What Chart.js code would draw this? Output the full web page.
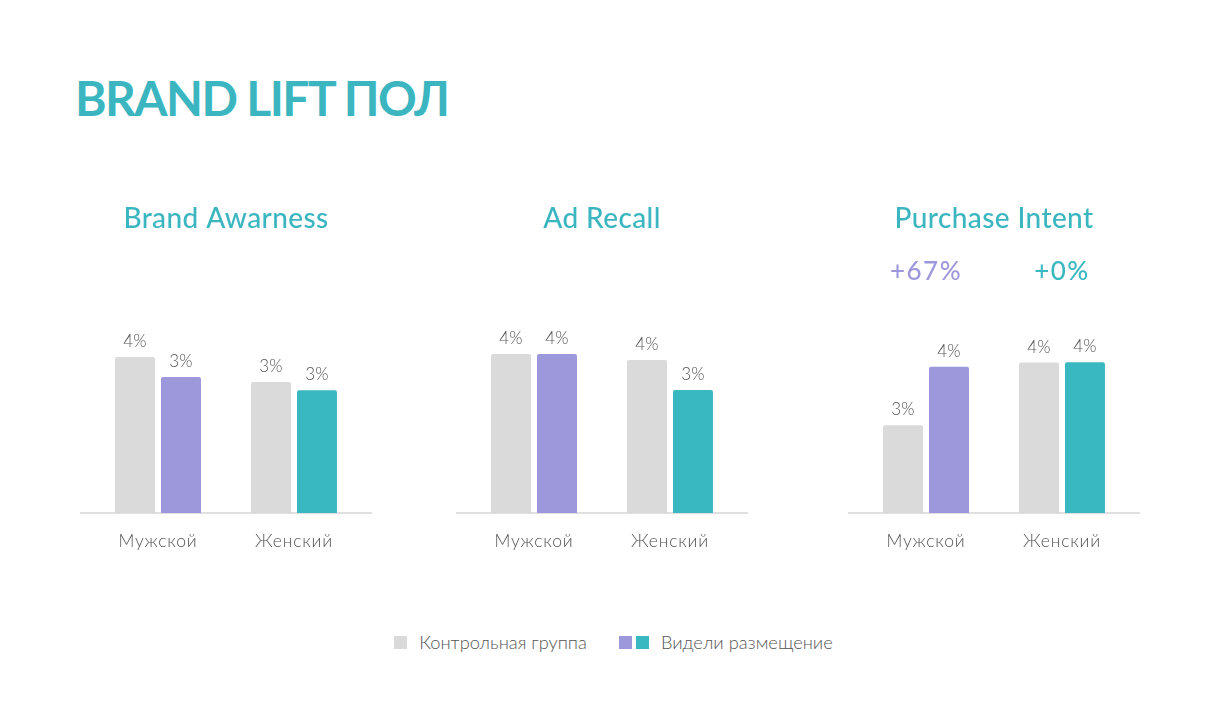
<!DOCTYPE html>
<html>
<head>
<meta charset="utf-8">
<script src="https://cdn.jsdelivr.net/npm/chart.js@4.4.1/dist/chart.umd.min.js"></script>
<style>
  body { margin: 0; background: #fff; font-family: Lato, sans-serif; }
  #page { position: relative; width: 1227px; height: 718px; overflow: hidden; }
  h1 { position: absolute; left: 75px; top: 74px; margin: 0; font: 700 48px/48px Lato, sans-serif; letter-spacing: -1.6px; color: #3bb6c0; white-space: nowrap; }
  .box { position: absolute; top: 180px; width: 292px; height: 380px; }
  #legend { position: absolute; left: 0; top: 631px; width: 1227px; display: flex; justify-content: center; align-items: center;
            font: 300 18.3px/22px Lato, sans-serif; color: #555; }
  .sq { display: inline-block; width: 13px; height: 13px; }
  .item { display: flex; align-items: center; }
</style>
</head>
<body>
<div id="page">
  <h1>BRAND LIFT ПОЛ</h1>
  <div class="box" style="left:80px"><canvas id="chart1"></canvas></div>
  <div class="box" style="left:456px"><canvas id="chart2"></canvas></div>
  <div class="box" style="left:848px"><canvas id="chart3"></canvas></div>
  <div id="legend"></div>
</div>
<script>
// данные
const categories = ["Мужской", "Женский"];
const seriesNames = ["Контрольная группа", "Видели размещение"];
const chartTitles = ["Brand Awarness", "Ad Recall", "Purchase Intent"];

const awarenessControl = [3.9, 3.28];
const awarenessSeen = [3.4, 3.07];
const recallControl = [4.2, 4.04];
const recallSeen = [4.2, 3.25];
const intentControl = [2.52, 4.32];
const intentSeen = [4.2, 4.33];

const yMax = [7.83, 8.27, 8.99];

const grey = "#dadada";
const seenColors = ["#9d98dc", "#3ab8c1"];

// подписи над столбиками, заголовок и прирост
const labelsPlugin = {
  id: "barLabels",
  beforeDraw(chart) {
    chart.ctx.letterSpacing = "0.8px";
  },
  beforeDatasetsDraw(chart) {
    const ctx = chart.ctx;
    ctx.save();
    ctx.strokeStyle = "#d6d6d6";
    ctx.lineWidth = 1.5;
    ctx.beginPath();
    ctx.moveTo(0, chart.chartArea.bottom);
    ctx.lineTo(chart.width, chart.chartArea.bottom);
    ctx.stroke();
    ctx.restore();
  },
  afterDatasetsDraw(chart, args, opts) {
    const ctx = chart.ctx;
    ctx.save();
    ctx.textAlign = "center";
    ctx.letterSpacing = "0.3px";
    ctx.font = "300 17px Lato";
    ctx.fillStyle = "#555";
    chart.data.datasets.forEach((ds, di) => {
      chart.getDatasetMeta(di).data.forEach((bar, j) => {
        ctx.fillText(Math.round(ds.data[j]) + "%", bar.x, bar.y - 10);
      });
    });

    ctx.letterSpacing = "0.4px";
    ctx.font = "500 28px Lato";
    ctx.fillStyle = "#3bb6c0";
    ctx.fillText(opts.title, chart.width / 2, 48);

    if (opts.showLift) {
      const ctrl = chart.data.datasets[0].data;
      const seen = chart.data.datasets[1].data;
      ctx.letterSpacing = "1.5px";
      ctx.font = "500 26px Lato";
      categories.forEach((c, j) => {
        const lift = Math.round((seen[j] / ctrl[j] - 1) * 100);
        ctx.fillStyle = seenColors[j];
        ctx.fillText((lift >= 0 ? "+" : "") + lift + "%", chart.scales.x.getPixelForValue(j), 100);
      });
    }
    ctx.restore();
  }
};

function makeChart(id, control, seen, title, max, showLift) {
  return new Chart(document.getElementById(id), {
    type: "bar",
    data: {
      labels: categories,
      datasets: [
        { label: seriesNames[0], data: control, backgroundColor: grey },
        { label: seriesNames[1], data: seen, backgroundColor: seenColors }
      ]
    },
    options: {
      responsive: true,
      maintainAspectRatio: false,
      animation: false,
      layout: { padding: { left: 10, right: 10, top: 20, bottom: 0 } },
      datasets: {
        bar: {
          categoryPercentage: 0.676,
          barPercentage: 0.87,
          borderRadius: { topLeft: 2, topRight: 2 },
          borderSkipped: "bottom"
        }
      },
      scales: {
        x: {
          grid: { display: false, drawTicks: false },
          border: { display: false },
          ticks: { color: "#555", font: { family: "Lato", size: 17.5, weight: 300 }, padding: 18 },
          afterFit(scale) { scale.height = 47; }
        },
        y: { display: false, min: 0, max: max }
      },
      plugins: {
        legend: { display: false },
        tooltip: { enabled: false },
        barLabels: { title: title, showLift: showLift }
      }
    },
    plugins: [labelsPlugin]
  });
}

makeChart("chart1", awarenessControl, awarenessSeen, chartTitles[0], yMax[0], false);
makeChart("chart2", recallControl, recallSeen, chartTitles[1], yMax[1], false);
makeChart("chart3", intentControl, intentSeen, chartTitles[2], yMax[2], true);

// легенда
const legend = document.getElementById("legend");
legend.innerHTML =
  '<span class="item"><span class="sq" style="background:' + grey + '"></span>' +
  '<span style="margin-left:12px">' + seriesNames[0] + '</span></span>' +
  '<span class="item" style="margin-left:32px"><span class="sq" style="background:' + seenColors[0] + '"></span>' +
  '<span class="sq" style="margin-left:4px;background:' + seenColors[1] + '"></span>' +
  '<span style="margin-left:12px">' + seriesNames[1] + '</span></span>';
</script>
</body>
</html>
